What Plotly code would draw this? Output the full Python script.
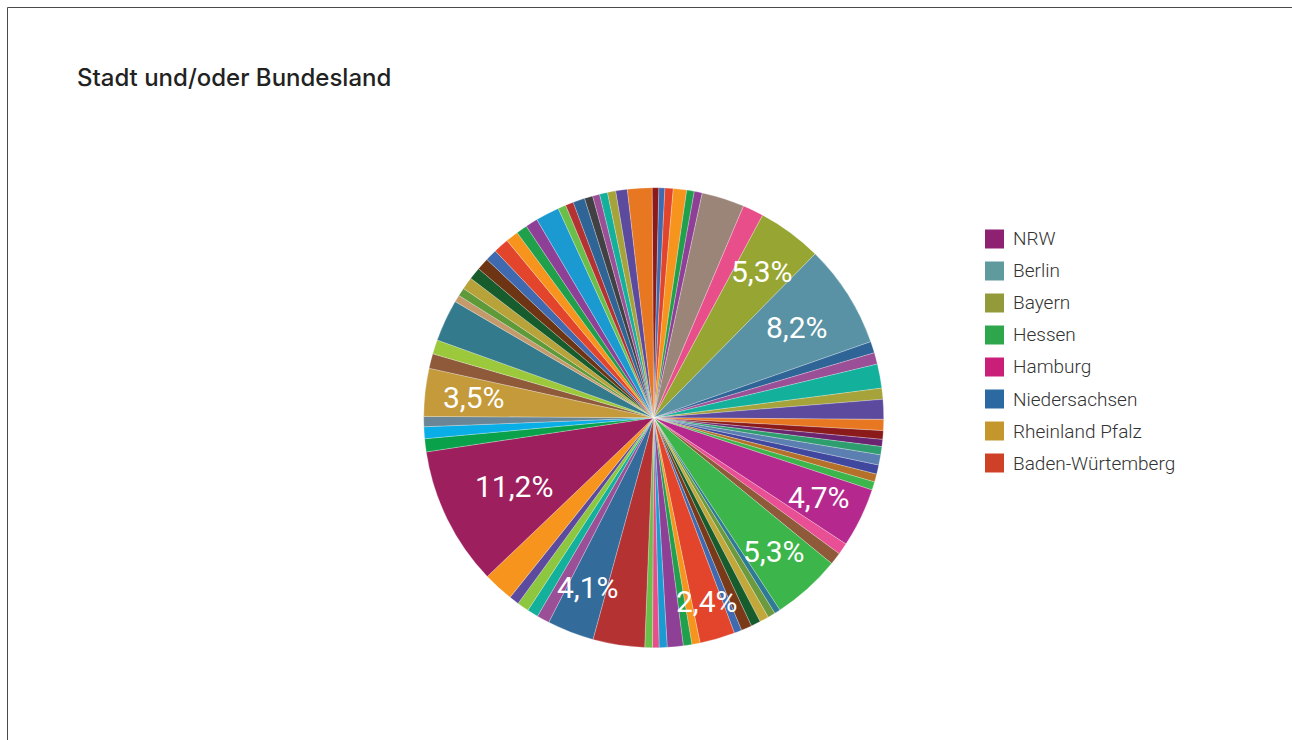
import math
import plotly.graph_objects as go

# Slice values (share of the pie, %), clockwise starting at 12 o'clock
slice_names = [
    "Weitere 1", "Weitere 2", "Weitere 3", "Weitere 4", "Weitere 5", "Weitere 6",
    "Weitere 7", "Weitere 8", "Bayern", "Berlin", "Weitere 11", "Weitere 12",
    "Weitere 13", "Weitere 14", "Weitere 15", "Weitere 16", "Weitere 17", "Weitere 18",
    "Weitere 19", "Weitere 20", "Weitere 21", "Weitere 22", "Weitere 23", "Hamburg",
    "Weitere 25", "Weitere 26", "Hessen", "Weitere 28", "Weitere 29", "Weitere 30",
    "Weitere 31", "Weitere 32", "Weitere 33", "Baden-Würtemberg", "Weitere 35", "Weitere 36",
    "Weitere 37", "Weitere 38", "Weitere 39", "Weitere 40", "Weitere 41", "Niedersachsen",
    "Weitere 43", "Weitere 44", "Weitere 45", "Weitere 46", "Weitere 47", "NRW",
    "Weitere 49", "Weitere 50", "Weitere 51", "Rheinland Pfalz", "Weitere 53", "Weitere 54",
    "Weitere 55", "Weitere 56", "Weitere 57", "Weitere 58", "Weitere 59", "Weitere 60",
    "Weitere 61", "Weitere 62", "Weitere 63", "Weitere 64", "Weitere 65", "Weitere 66",
    "Weitere 67", "Weitere 68", "Weitere 69", "Weitere 70", "Weitere 71", "Weitere 72",
    "Weitere 73", "Weitere 74", "Weitere 75",
]
slice_values = [
    0.47, 0.42, 0.58, 0.94, 0.53, 0.56,
    3.00, 1.47, 4.53, 7.25, 0.81, 0.81,
    1.69, 0.78, 1.39, 0.78, 0.61, 0.50,
    0.58, 0.72, 0.64, 0.56, 0.58, 4.17,
    0.81, 0.86, 4.83, 0.42, 0.53, 0.64,
    0.67, 0.75, 0.53, 2.47, 0.58, 0.60,
    1.12, 0.56, 0.46, 0.54, 3.63, 3.29,
    0.89, 0.78, 0.83, 0.69, 2.14, 9.75,
    0.92, 0.83, 0.72, 3.36, 1.03, 1.00,
    2.94, 0.50, 0.58, 0.86, 0.86, 0.86,
    0.83, 1.08, 0.89, 0.78, 0.86, 1.67,
    0.56, 0.56, 0.83, 0.58, 0.50, 0.56,
    0.58, 0.81, 1.72,
]

# Legend entries and the percentages printed on their slices
legend_names = ["NRW", "Berlin", "Bayern", "Hessen", "Hamburg",
                "Niedersachsen", "Rheinland Pfalz", "Baden-Würtemberg"]
legend_pct = [11.2, 8.2, 5.3, 5.3, 4.7, 4.1, 3.5, 2.4]

# Styles
slice_colors = [
    "#8b1a1a", "#3f6ab0", "#e2452b", "#f7941d", "#20a04a", "#8e3f96",
    "#9b8579", "#e84f8a", "#97a632", "#5892a4", "#2f6496", "#9b4f96",
    "#13b09b", "#a6a33a", "#5b4a9e", "#e87722", "#8b1a1a", "#6b2570",
    "#2f9e6e", "#5b7fb0", "#3f479e", "#b5712a", "#3cb54a", "#b5298e",
    "#e84f95", "#8f5a3a", "#3cb54a", "#2f7b96", "#6b9a3f", "#c2a83a",
    "#175c2c", "#7a3a1a", "#3f6ab0", "#e2452b", "#f7941d", "#20a04a",
    "#8e3f96", "#1b9ad2", "#e84f8a", "#6abf4b", "#b53232", "#336b9b",
    "#9b4f96", "#13b09b", "#8dc63f", "#5b4a9e", "#f7941d", "#9e1f5e",
    "#0aa14b", "#0aaee6", "#6a8696", "#c49a3a", "#8f5a3a", "#9bc93b",
    "#337a8c", "#c49a6c", "#5f9a3a", "#b8a23a", "#175c2c", "#6e3515",
    "#3f6ab0", "#e2452b", "#f7941d", "#20a04a", "#8e3f96", "#1b9ad2",
    "#6abf4b", "#b53232", "#2f6496", "#414042", "#9b4f96", "#13b09b",
    "#a6a33a", "#5b4a9e", "#e87722",
]
legend_colors = ["#8f2172", "#5f9a9e", "#939a39", "#2ea74c", "#c91f78",
                 "#2b6aa0", "#c4962c", "#cf4127"]
# radial position of each slice label (fraction of the radius)
label_radius = [0.676, 0.735, 0.79, 0.78, 0.80, 0.79, 0.787, 0.83]

W, H = 1292, 740
CX, CY, R = 653.7, 417.7, 230.0
ROT = -0.4

fig = go.Figure()
fig.add_trace(go.Pie(
    labels=slice_names,
    values=slice_values,
    textinfo="none",
    marker=dict(colors=slice_colors, line=dict(color="rgba(255,255,255,0.5)", width=0.5)),
    sort=False,
    direction="clockwise",
    rotation=ROT,
    showlegend=False,
    hoverinfo="label+percent",
    domain=dict(x=[(CX - R) / W, (CX + R) / W],
                y=[(H - CY - R) / H, (H - CY + R) / H]),
))

shapes = [
    dict(type="rect", xref="paper", yref="paper",
         x0=7.5 / W, x1=1.02, y0=-0.02, y1=1 - 7.5 / H,
         line=dict(color="#4a4a4a", width=1), fillcolor="rgba(0,0,0,0)"),
]
annotations = [
    dict(text="Stadt und/oder Bundesland", xref="paper", yref="paper",
         x=75 / W, y=1 - 77 / H, xanchor="left", yanchor="middle", showarrow=False,
         font=dict(family="Inter, Open Sans, sans-serif", size=24, color="#222222", weight=500)),
]

# slice labels placed on the bisector of each labelled slice
total = sum(slice_values)
cum = 0.0
mid_angle = {}
for n, v in zip(slice_names, slice_values):
    mid_angle[n] = ROT + (cum + v / 2) / total * 360.0
    cum += v
for name, pct, rf in zip(legend_names, legend_pct, label_radius):
    a = math.radians(mid_angle[name])
    px = CX + rf * R * math.sin(a)
    py = CY - rf * R * math.cos(a)
    annotations.append(dict(
        text=f"{pct:.1f}".replace(".", ",") + "%", xref="paper", yref="paper",
        x=px / W, y=1 - py / H, xanchor="center", yanchor="middle", showarrow=False,
        font=dict(family="Roboto, Arial, sans-serif", size=30, color="white")))

for i, (name, col) in enumerate(zip(legend_names, legend_colors)):
    yc = 239 + 32 * i
    shapes.append(dict(type="rect", xref="paper", yref="paper",
                       x0=985 / W, x1=1004 / W,
                       y0=1 - (yc + 9.5) / H, y1=1 - (yc - 9.5) / H,
                       line=dict(width=0), fillcolor=col))
    annotations.append(dict(text=name, xref="paper", yref="paper",
                            x=1011 / W, y=1 - yc / H, xanchor="left", yanchor="middle",
                            showarrow=False,
                            font=dict(family="Roboto, Arial, sans-serif", size=19,
                                      color="#333333", weight=300)))

fig.update_layout(
    width=W, height=H,
    margin=dict(l=0, r=0, t=0, b=0),
    paper_bgcolor="white",
    plot_bgcolor="white",
    separators=",.",
    shapes=shapes,
    annotations=annotations,
)

fig.write_html("out.html")
